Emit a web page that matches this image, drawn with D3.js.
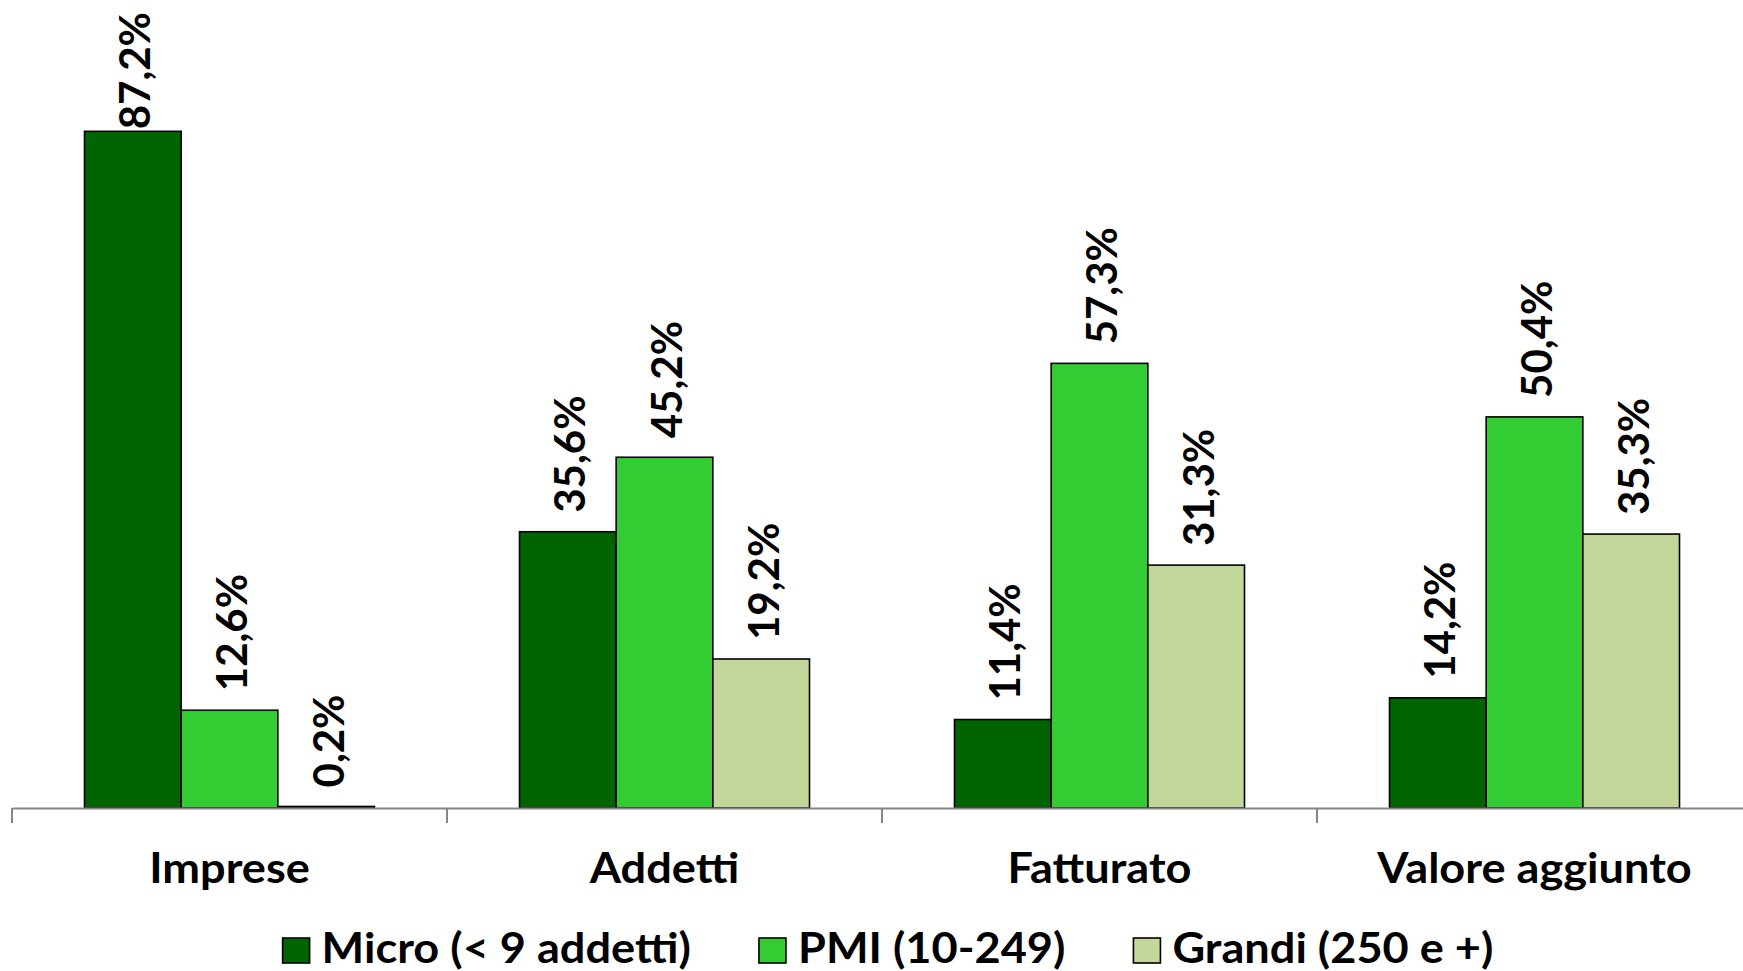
<!DOCTYPE html>
<html>
<head>
<meta charset="utf-8">
<script src="https://cdn.jsdelivr.net/npm/d3@7"></script>
<style>
  html, body { margin: 0; padding: 0; background: #fff; }
  svg { display: block; }
  text { font-family: Lato, "Open Sans", sans-serif; font-weight: bold; fill: #000; }
</style>
</head>
<body>
<svg id="chart" width="1743" height="971"></svg>
<script>
const categories = ["Imprese", "Addetti", "Fatturato", "Valore aggiunto"];
const seriesNames = ["Micro (< 9 addetti)", "PMI (10-249)", "Grandi (250 e +)"];
const micro = [87.2, 35.6, 11.4, 14.2];
const pmi = [12.6, 45.2, 57.3, 50.4];
const grandi = [0.2, 19.2, 31.3, 35.3];
const seriesValues = [micro, pmi, grandi];
const colors = ["#006400", "#33CC33", "#C4D79B"];

const svg = d3.select("#chart");
const baseY = 808;
const stretch = 1.075;

const x0 = d3.scaleBand().domain(categories).range([12, 1752]).paddingInner(0).paddingOuter(0);
const bw = x0.bandwidth();
const x1 = d3.scaleBand().domain(seriesNames).range([bw / 6, bw * 5 / 6]).padding(0);
const y = d3.scaleLinear().domain([0, 100]).range([baseY, 32]);

const fmt = v => d3.format(".1f")(v).replace(".", ",") + "%";

const data = [];
categories.forEach((c, i) => {
  seriesNames.forEach((s, j) => {
    data.push({ cat: c, ser: s, j: j, v: seriesValues[j][i] });
  });
});

// bars
svg.append("g").selectAll("rect").data(data).join("rect")
  .attr("x", d => x0(d.cat) + x1(d.ser))
  .attr("y", d => y(d.v))
  .attr("width", x1.bandwidth())
  .attr("height", d => baseY - y(d.v))
  .attr("fill", d => colors[d.j])
  .attr("stroke", "#000")
  .attr("stroke-width", 1.6);

// axis
const axis = d3.axisBottom(x0).tickSize(0).tickFormat("");
const ag = svg.append("g").attr("transform", `translate(0,${baseY})`).call(axis);
ag.select(".domain").attr("stroke", "#868686").attr("stroke-width", 2.2);
const bounds = categories.map(c => x0(c)).concat([x0(categories[categories.length - 1]) + bw]);
ag.selectAll(".bt").data(bounds).join("line").attr("class", "bt")
  .attr("x1", d => d).attr("x2", d => d).attr("y1", 0).attr("y2", 15)
  .attr("stroke", "#868686").attr("stroke-width", 2);

// category labels
svg.append("g").selectAll("text").data(categories).join("text")
  .attr("transform", d => `translate(${x0(d) + bw / 2},883) scale(${stretch},1)`)
  .attr("text-anchor", "middle")
  .style("font-size", "42px")
  .text(d => d);

// value labels
const lg = svg.append("g");
data.forEach(d => {
  const cx = x0(d.cat) + x1(d.ser) + x1.bandwidth() / 2;
  const t = lg.append("text")
    .style("font-size", "42px")
    .attr("text-anchor", "start")
    .attr("dy", "0.42em")
    .text(fmt(d.v));
  const len = t.node().getComputedTextLength();
  let start = y(d.v) - 19;
  if (start - len < 12) start = 12 + len;
  t.attr("transform", `translate(${cx},${start}) rotate(-90)`);
});

// legend
const leg = svg.append("g");
const textGap = 39, itemGap = 68;
let lx = 0;
seriesNames.forEach((s, j) => {
  const g = leg.append("g");
  g.append("rect").attr("x", lx).attr("y", -25).attr("width", 27).attr("height", 25)
    .attr("fill", colors[j]).attr("stroke", "#000").attr("stroke-width", 1.6);
  const t = g.append("text").attr("transform", `translate(${lx + textGap},0) scale(${stretch},1)`)
    .style("font-size", "42px").text(s);
  const len = t.node().getComputedTextLength() * stretch;
  lx += textGap + len + itemGap;
});
const totalW = lx - itemGap;
leg.attr("transform", `translate(${888 - totalW / 2},963)`);
</script>
</body>
</html>
